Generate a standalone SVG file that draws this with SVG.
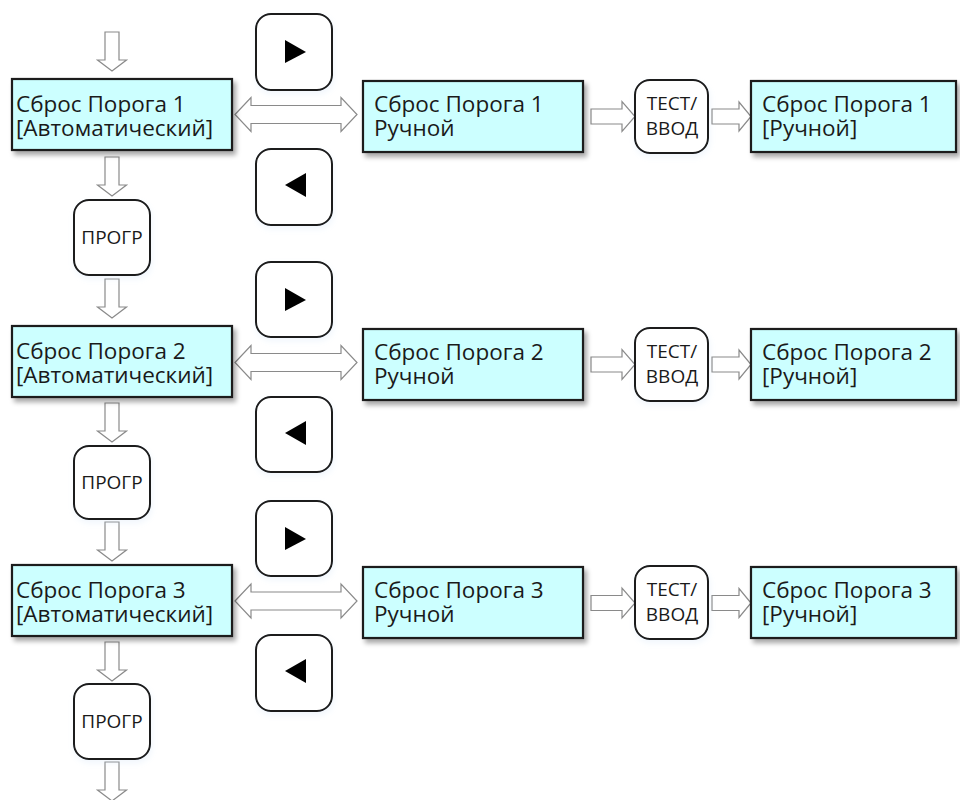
<svg xmlns="http://www.w3.org/2000/svg" width="960" height="800" viewBox="0 0 960 800">
<defs>
<filter id="sh" x="-10%" y="-20%" width="130%" height="150%">
<feGaussianBlur in="SourceAlpha" stdDeviation="2.5"/>
<feOffset dx="3" dy="4" result="b"/>
<feComponentTransfer><feFuncA type="linear" slope="0.35"/></feComponentTransfer>
<feMerge><feMergeNode/><feMergeNode in="SourceGraphic"/></feMerge>
</filter>
<filter id="gl" x="-30%" y="-30%" width="160%" height="160%">
<feGaussianBlur in="SourceAlpha" stdDeviation="3"/>
<feOffset dx="1" dy="3"/>
<feComponentTransfer><feFuncA type="linear" slope="0.25"/></feComponentTransfer>
<feColorMatrix type="matrix" values="0 0 0 0 0.55  0 0 0 0 0.7  0 0 0 0 0.9  0 0 0 1 0"/>
<feMerge><feMergeNode/><feMergeNode in="SourceGraphic"/></feMerge>
</filter>
<path id="dn" d="M-7,0 H7 V28 H14.5 L0,39 L-14.5,28 H-7 Z"/>
<path id="rt" d="M0,-7.5 H31 V-15 L44,0 L31,15 V7.5 H0 Z"/>
<path id="rt2" d="M0,-7.5 H27 V-14.5 L39,0 L27,14.5 V7.5 H0 Z"/>
<path id="dbl" d="M0,0 L16,-17 V-9 H106 V-17 L122,0 L106,17 V9 H16 V17 Z"/>
</defs>
<style>
.box{fill:#ccffff;stroke:#1a1a1a;stroke-width:2.2}
.btn{fill:#ffffff;stroke:#1a1a1a;stroke-width:2}
.arr{fill:#ffffff;stroke:#8a8a8a;stroke-width:1.2}
.t{font-family:"Open Sans","Noto Sans","Liberation Sans",sans-serif;font-size:22.5px;fill:#1a1a1a}
.s{font-family:"Open Sans","Noto Sans","Liberation Sans",sans-serif;font-size:19px;fill:#1a1a1a;text-anchor:middle}
.tri{fill:#000000}
</style>

<g id="connectors">
<use href="#dn" x="112" y="32" class="arr"/>
<use href="#dn" x="112" y="157" class="arr"/>
<use href="#dn" x="112" y="279" class="arr"/>
<use href="#dn" x="112" y="403" class="arr"/>
<use href="#dn" x="112" y="522" class="arr"/>
<use href="#dn" x="112" y="642" class="arr"/>
<use href="#dn" x="112" y="762" class="arr"/>
<use href="#dbl" x="235" y="114.5" class="arr"/>
<use href="#dbl" x="235" y="362.5" class="arr"/>
<use href="#dbl" x="235" y="601" class="arr"/>
<use href="#rt" x="591" y="116.5" class="arr"/>
<use href="#rt" x="591" y="364.5" class="arr"/>
<use href="#rt" x="591" y="603" class="arr"/>
<use href="#rt2" x="712" y="116.5" class="arr"/>
<use href="#rt2" x="712" y="364.5" class="arr"/>
<use href="#rt2" x="712" y="603" class="arr"/>
</g>

<g id="auto1"><rect class="box" x="12" y="79" width="220" height="71" filter="url(#sh)"/>
<text class="t" x="16" y="112">Сброс Порога 1</text><text class="t" x="16" y="136">[Автоматический]</text></g>
<g id="auto2"><rect class="box" x="12" y="326" width="220" height="71" filter="url(#sh)"/>
<text class="t" x="16" y="359">Сброс Порога 2</text><text class="t" x="16" y="383">[Автоматический]</text></g>
<g id="auto3"><rect class="box" x="12" y="565" width="220" height="71" filter="url(#sh)"/>
<text class="t" x="16" y="598">Сброс Порога 3</text><text class="t" x="16" y="622">[Автоматический]</text></g>

<g id="man1"><rect class="box" x="363" y="81" width="220" height="71" filter="url(#sh)"/>
<text class="t" x="374" y="112">Сброс Порога 1</text><text class="t" x="374" y="136">Ручной</text></g>
<g id="man2"><rect class="box" x="363" y="329" width="220" height="71" filter="url(#sh)"/>
<text class="t" x="374" y="360">Сброс Порога 2</text><text class="t" x="374" y="384">Ручной</text></g>
<g id="man3"><rect class="box" x="363" y="567" width="220" height="71" filter="url(#sh)"/>
<text class="t" x="374" y="598">Сброс Порога 3</text><text class="t" x="374" y="622">Ручной</text></g>

<g id="res1"><rect class="box" x="751" y="81" width="205" height="71" filter="url(#sh)"/>
<text class="t" x="762" y="112">Сброс Порога 1</text><text class="t" x="762" y="136">[Ручной]</text></g>
<g id="res2"><rect class="box" x="751" y="329" width="205" height="71" filter="url(#sh)"/>
<text class="t" x="762" y="360">Сброс Порога 2</text><text class="t" x="762" y="384">[Ручной]</text></g>
<g id="res3"><rect class="box" x="751" y="567" width="205" height="71" filter="url(#sh)"/>
<text class="t" x="762" y="598">Сброс Порога 3</text><text class="t" x="762" y="622">[Ручной]</text></g>

<g id="test1"><rect class="btn" x="635" y="80" width="73" height="73" rx="15" filter="url(#gl)"/>
<text class="s" x="672" y="110">ТЕСТ/</text><text class="s" x="672" y="135">ВВОД</text></g>
<g id="test2"><rect class="btn" x="635" y="328" width="73" height="73" rx="15" filter="url(#gl)"/>
<text class="s" x="672" y="358">ТЕСТ/</text><text class="s" x="672" y="383">ВВОД</text></g>
<g id="test3"><rect class="btn" x="635" y="566" width="73" height="73" rx="15" filter="url(#gl)"/>
<text class="s" x="672" y="596">ТЕСТ/</text><text class="s" x="672" y="621">ВВОД</text></g>

<g id="prog1"><rect class="btn" x="74" y="200" width="76" height="75" rx="15" filter="url(#gl)"/>
<text class="s" x="112" y="244">ПРОГР</text></g>
<g id="prog2"><rect class="btn" x="74" y="446" width="76" height="73" rx="15" filter="url(#gl)"/>
<text class="s" x="112" y="489">ПРОГР</text></g>
<g id="prog3"><rect class="btn" x="74" y="684" width="76" height="75" rx="15" filter="url(#gl)"/>
<text class="s" x="112" y="728">ПРОГР</text></g>

<g id="right1"><rect class="btn" x="256" y="14" width="76" height="76" rx="15" filter="url(#gl)"/>
<polygon class="tri" points="285,40 306,52 285,63"/></g>
<g id="right2"><rect class="btn" x="256" y="262" width="76" height="75" rx="15" filter="url(#gl)"/>
<polygon class="tri" points="285,288 306,300 285,311"/></g>
<g id="right3"><rect class="btn" x="256" y="501" width="76" height="75" rx="15" filter="url(#gl)"/>
<polygon class="tri" points="285,527 306,539 285,550"/></g>

<g id="left1"><rect class="btn" x="256" y="149" width="76" height="76" rx="15" filter="url(#gl)"/>
<polygon class="tri" points="306,173 285,185 306,197"/></g>
<g id="left2"><rect class="btn" x="256" y="397" width="76" height="75" rx="15" filter="url(#gl)"/>
<polygon class="tri" points="306,421 285,433 306,445"/></g>
<g id="left3"><rect class="btn" x="256" y="635" width="76" height="76" rx="15" filter="url(#gl)"/>
<polygon class="tri" points="306,659 285,671 306,683"/></g>
</svg>
